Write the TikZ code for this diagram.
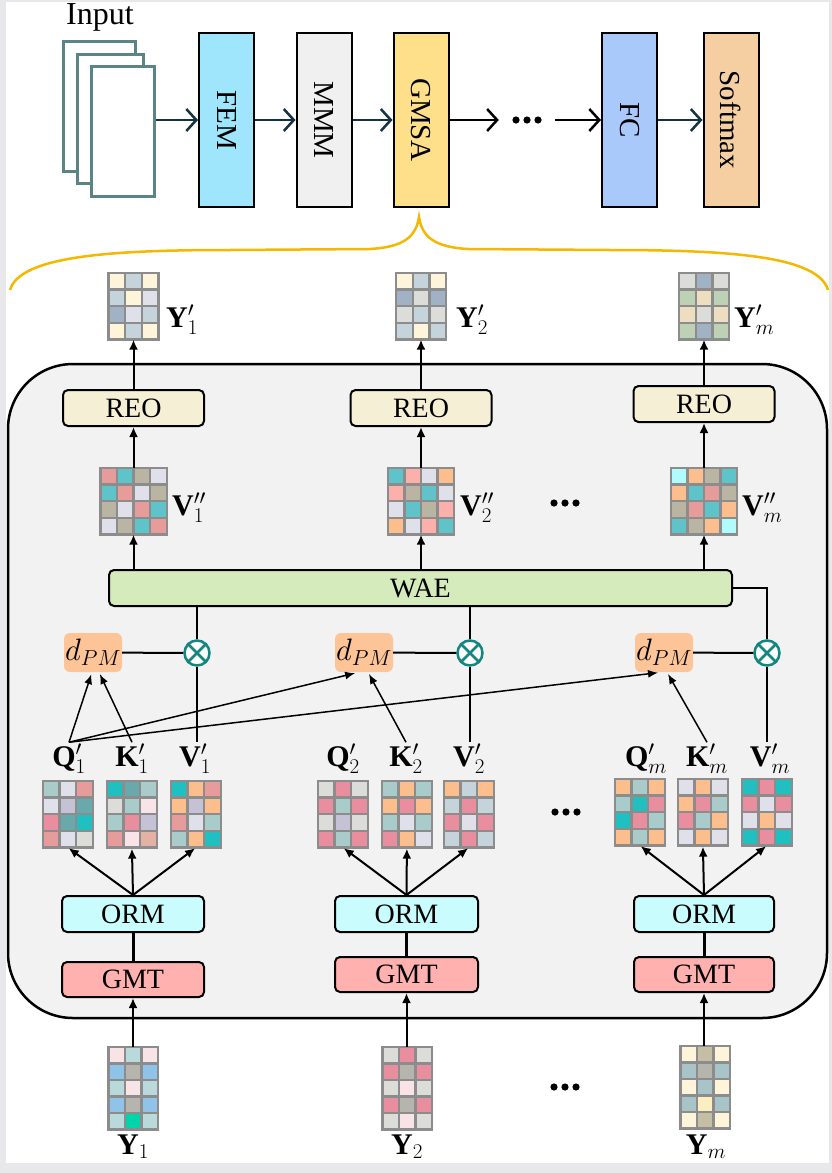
\RequirePackage{fix-cm}
\documentclass[tikz,border=0pt]{standalone}
\usepackage{fontspec}
\setmainfont{Liberation Serif}
\usepackage{graphicx}
\usetikzlibrary{arrows.meta}
\definecolor{cframe}{HTML}{E8E8EA}
\definecolor{cpage}{HTML}{5B8585}
\definecolor{cfem}{HTML}{9FE6FC}
\definecolor{cmmm}{HTML}{F0F0F0}
\definecolor{cgmsa}{HTML}{FFE08A}
\definecolor{cfc}{HTML}{A9C9FB}
\definecolor{csoft}{HTML}{F5CFA2}
\definecolor{cnavy}{HTML}{14323F}
\definecolor{cbrace}{HTML}{F5B800}
\definecolor{cbody}{HTML}{F2F2F2}
\definecolor{creo}{HTML}{F5EFD5}
\definecolor{cwae}{HTML}{D5EBBC}
\definecolor{cdpm}{HTML}{FCC497}
\definecolor{cot}{HTML}{138680}
\definecolor{corm}{HTML}{C9FDFD}
\definecolor{cgmt}{HTML}{FFB1B0}
\definecolor{cgrid}{HTML}{8C8C8C}
% cell colours
\definecolor{ccr}{HTML}{FDF4DA}
\definecolor{cbg}{HTML}{C5D3DA}
\definecolor{clv}{HTML}{E0E0EA}
\definecolor{csl}{HTML}{A0B2C4}
\definecolor{clg}{HTML}{DCDCD8}
\definecolor{csg}{HTML}{BDD1B5}
\definecolor{ctn}{HTML}{EEDEC0}
\definecolor{cro}{HTML}{E59C9A}
\definecolor{cte}{HTML}{5EC4C9}
\definecolor{ckh}{HTML}{B9B5A2}
\definecolor{cpk}{HTML}{FBB0AB}
\definecolor{cor}{HTML}{FCBE8C}
\definecolor{ccy}{HTML}{B0FCFC}
\definecolor{cgt}{HTML}{A9CBCA}
\definecolor{cli}{HTML}{C4C2D4}
\definecolor{cdt}{HTML}{6AA9AB}
\definecolor{cpr}{HTML}{E98E9F}
\definecolor{cbt}{HTML}{20BFC0}
\definecolor{cpp}{HTML}{F8E4E6}
\definecolor{csa}{HTML}{E3B2A4}
\definecolor{csb}{HTML}{8FC4E8}
\definecolor{cgy}{HTML}{B5B5AD}
\definecolor{clt}{HTML}{B9D9DB}
\definecolor{cmn}{HTML}{00D4AA}
\definecolor{ckk}{HTML}{C4BEA4}
\definecolor{cgg}{HTML}{A9C4C8}
\definecolor{cyw}{HTML}{FBEEC0}

\newcommand\cellmat[7]{%
  \foreach \mcol [count=\mi from 0] in {#7}{%
    \pgfmathtruncatemacro\mcx{mod(\mi,#4)}%
    \pgfmathtruncatemacro\mry{div(\mi,#4)}%
    \fill[\mcol] ({#2+\mcx*#6},{#3+\mry*#6}) rectangle ++(#6,#6);
  }
  \foreach \mk in {0,...,#4} \draw[gridline] ({#2+\mk*#6},#3) -- ++(0,{#5*#6});
  \foreach \mk in {0,...,#5} \draw[gridline] (#2,{#3+\mk*#6}) -- ++({#4*#6},0);
  \node[inner sep=0pt, minimum width={#4*#6}, minimum height={#5*#6}] (#1) at ({#2+#4*#6/2},{#3+#5*#6/2}) {};
}
\newcommand\threedots[2]{\foreach \mk in {-11,0,11} \fill ({#1+\mk},#2) circle (3.6);}

\tikzset{
 blk/.style={draw=black, line width=2pt, rounded corners=5pt, inner sep=0pt, font=\fontsize{28}{30}\selectfont},
 topblk/.style={draw=black, line width=2pt, inner sep=0pt, minimum width=55pt, minimum height=174pt, font=\fontsize{29}{30}\selectfont},
 page/.style={draw=cpage, line width=3pt, fill=white, inner sep=0pt},
 toparr/.style={line width=2.5pt, -{Straight Barb[length=10pt,width=22pt]}},
 arr/.style={line width=2pt, -{Latex[length=10pt,width=9pt]}},
 thinarr/.style={line width=1.5pt, -{Latex[length=10pt,width=8pt]}},
 conn/.style={line width=2pt},
 lbl/.style={font=\fontsize{30}{32}\selectfont, inner sep=1pt},
 gridline/.style={draw=cgrid, line width=2.4pt, line cap=rect},
 otn/.style={circle, draw=cot, line width=2.5pt, fill=white, minimum size=25pt, inner sep=0pt},
 dpmn/.style={fill=cdpm, rounded corners=6pt, minimum width=58pt, minimum height=39pt, inner sep=0pt, font=\fontsize{31}{32}\selectfont},
}

\begin{document}
\begin{tikzpicture}[x=1pt,y=-1pt]
\useasboundingbox (0,0) rectangle (832,1173);
\fill[cframe] (0,0) rectangle (832,1173);
\fill[white] (6,2) rectangle (829,1163);

% ---------- top pipeline ----------
\node[font=\fontsize{32}{34}\selectfont, inner sep=0pt] (inlbl) at (100,17) {Input};
\node[page, minimum width=72, minimum height=130] (in1) at (99,106) {};
\node[page, minimum width=66, minimum height=129] (in2) at (110,118.5) {};
\node[page, minimum width=63, minimum height=130] (in3) at (122.5,131) {};

\node[topblk, fill=cfem] (fem) at (226.5,120) {\rotatebox{-90}{FEM}};
\node[topblk, fill=cmmm] (mmm) at (324,120) {\rotatebox{-90}{MMM}};
\node[topblk, fill=cgmsa] (gmsa) at (421,120) {\rotatebox{-90}{GMSA}};
\node[inner sep=0pt, minimum width=56, minimum height=10] (tdots) at (527,120) {};
\threedots{527}{120}
\node[topblk, fill=cfc] (fc) at (629.5,120) {\rotatebox{-90}{FC}};
\node[topblk, fill=csoft] (soft) at (731,120) {\rotatebox{-90}{Softmax}};

\draw[toparr, cnavy] (in3.east |- fem) -- (fem);
\draw[toparr, cnavy] (fem) -- (mmm);
\draw[toparr, cnavy] (mmm) -- (gmsa);
\draw[toparr] (gmsa) -- (tdots.west);
\draw[toparr] (tdots.east) -- (fc);
\draw[toparr, cnavy] (fc) -- (soft);

% brace
\coordinate (apex) at (419,217);
\draw[cbrace, line width=2.5pt] (10,290) .. controls (20,256) and (110,250) .. (230,250) -- (370,249)
   .. controls (405,247) and (416,236) .. (apex)
   .. controls (422,236) and (433,247) .. (468,249) -- (610,250)
   .. controls (730,250) and (818,256) .. (828,290);

% ---------- body ----------
\node[draw=black, line width=2.5pt, fill=cbody, rounded corners=65pt, minimum width=819, minimum height=654, inner sep=0pt] (body) at (417.5,691) {};

% output matrices Y'
\cellmat{yp1}{108.6}{273}{3}{4}{16.6}{ccr,cbg,ccr, cbg,ccr,clv, csl,clv,cbg, ccr,cbg,ccr}
\cellmat{yp2}{396.1}{273}{3}{4}{16.6}{ccr,cbg,ccr, csl,clg,csl, clg,cbg,clg, cbg,ccr,cbg}
\cellmat{yp3}{679.1}{273}{3}{4}{16.6}{clg,csl,clg, csg,ctn,csg, ctn,clg,ctn, csg,csl,csg}
\node[lbl, anchor=base west] (yp1l) at (165,327) {$\mathbf{Y}'_1$};
\node[lbl, anchor=base west] (yp2l) at (455,327) {$\mathbf{Y}'_2$};
\node[lbl, anchor=base west] (yp3l) at (733,327) {$\mathbf{Y}'_m$};

% REO
\node[blk, fill=creo, minimum width=141, minimum height=36] (reo1) at (133.5,408) {REO};
\node[blk, fill=creo, minimum width=141, minimum height=36] (reo2) at (421,408) {REO};
\node[blk, fill=creo, minimum width=141, minimum height=36] (reo3) at (704,404) {REO};

% V''
\cellmat{vpp1}{100.3}{468}{4}{4}{16.6}{cro,cte,ckh,clv, cte,cro,clv,ckh, ckh,clv,cro,cte, clv,ckh,cte,cro}
\cellmat{vpp2}{387.8}{468}{4}{4}{16.6}{cte,cpk,clv,cor, cpk,ckh,cte,clv, clv,cte,ckh,cpk, cor,clv,cpk,cte}
\cellmat{vpp3}{670.8}{468}{4}{4}{16.6}{ccy,cor,ckh,cte, cor,cte,cro,ckh, ckh,cro,cte,cor, cte,ckh,cor,ccy}
\node[lbl, anchor=base west] (vpp1l) at (171,515) {$\mathbf{V}''_1$};
\node[lbl, anchor=base west] (vpp2l) at (459,515) {$\mathbf{V}''_2$};
\node[lbl, anchor=base west] (vpp3l) at (741,515) {$\mathbf{V}''_m$};
\threedots{565}{503}

\draw[arr] (reo1) -- (yp1);
\draw[arr] (reo2) -- (yp2);
\draw[arr] (reo3) -- (yp3);
\draw[arr] (vpp1) -- (reo1);
\draw[arr] (vpp2) -- (reo2);
\draw[arr] (vpp3) -- (reo3);

% WAE
\node[blk, fill=cwae, minimum width=623, minimum height=36] (wae) at (420.5,588) {WAE};
\draw[arr] (wae.north -| vpp1) -- (vpp1);
\draw[arr] (wae.north -| vpp2) -- (vpp2);
\draw[arr] (wae.north -| vpp3) -- (vpp3);

% dPM and otimes
\node[dpmn] (dpm1) at (93,652.5) {$d_{PM}$};
\node[dpmn] (dpm2) at (364,652.5) {$d_{PM}$};
\node[dpmn] (dpm3) at (664,652.5) {$d_{PM}$};
\node[otn] (ot1) at (197,653) {};
\node[otn] (ot2) at (470,653) {};
\node[otn] (ot3) at (767,653) {};
\foreach \o in {ot1,ot2,ot3}{
  \draw[cot, line width=2.5pt] (\o.north east) -- (\o.south west);
  \draw[cot, line width=2.5pt] (\o.north west) -- (\o.south east);
}
\draw[conn] (dpm1) -- (ot1);
\draw[conn] (dpm2) -- (ot2);
\draw[conn] (dpm3) -- (ot3);
\draw[conn] (ot1) -- (ot1 |- wae.south);
\draw[conn] (ot2) -- (ot2 |- wae.south);
\draw[conn] (ot3) |- (wae.east);

% Q K V labels
\node[lbl, anchor=base] (q1l) at (69,766) {$\mathbf{Q}'_1$};
\node[lbl, anchor=base] (k1l) at (132,766) {$\mathbf{K}'_1$};
\node[lbl, anchor=base] (v1l) at (195,766) {$\mathbf{V}'_1$};
\node[lbl, anchor=base] (q2l) at (343,766) {$\mathbf{Q}'_2$};
\node[lbl, anchor=base] (k2l) at (406,766) {$\mathbf{K}'_2$};
\node[lbl, anchor=base] (v2l) at (469,766) {$\mathbf{V}'_2$};
\node[lbl, anchor=base] (q3l) at (646,766) {$\mathbf{Q}'_m$};
\node[lbl, anchor=base] (k3l) at (707,766) {$\mathbf{K}'_m$};
\node[lbl, anchor=base] (v3l) at (770,766) {$\mathbf{V}'_m$};

\draw[conn] (ot1) -- (ot1 |- v1l.north);
\draw[conn] (ot2) -- (ot2 |- v2l.north);
\draw[conn] (ot3) -- (ot3 |- v3l.north);

\draw[thinarr, shorten >=2pt] (q1l.north) -- ([xshift=-1pt]dpm1.south);
\draw[thinarr, shorten >=2pt] (k1l.north) -- ([xshift=6pt]dpm1.south);
\draw[thinarr, shorten >=4pt] (q1l.north) -- ([xshift=-5pt]dpm2.south);
\draw[thinarr, shorten >=2pt] (k2l.north) -- ([xshift=4pt]dpm2.south);
\draw[thinarr, shorten >=4pt] (q1l.north) -- ([xshift=-2pt]dpm3.south);
\draw[thinarr, shorten >=2pt] (k3l.north) -- ([xshift=3pt]dpm3.south);

% Q K V matrices
\cellmat{q1m}{43}{781}{3}{4}{16.6}{cgt,clv,cro, clv,cli,cdt, cpr,cdt,cbt, cro,clv,clg}
\cellmat{k1m}{107}{781}{3}{4}{16.6}{cbt,cdt,cgt, clg,cgt,cpp, cgt,cpr,cli, cro,cpp,csa}
\cellmat{v1m}{171}{781}{3}{4}{16.6}{cbt,cor,cro, cor,cli,cor, cro,clv,cgt, cgt,cor,cbt}
\cellmat{q2m}{318}{781}{3}{4}{16.6}{clg,cpr,clg, cpr,cgt,cpr, clg,cli,clg, cpr,cgt,cpr}
\cellmat{k2m}{382}{781}{3}{4}{16.6}{cgt,cor,cgt, cor,cpr,cor, cgt,clv,cgt, cpr,cor,clv}
\cellmat{v2m}{444}{781}{3}{4}{16.6}{cor,cbg,cor, cbg,cpr,cbg, cpr,clv,cpr, cbg,cpr,cbg}
\cellmat{q3m}{615}{779}{3}{4}{16.6}{cor,cgt,cor, cgt,cbt,cpr, cbt,cpr,cgt, cor,cgt,cor}
\cellmat{k3m}{678}{779}{3}{4}{16.6}{clv,cor,clv, cor,cpr,cgt, cpr,cgt,cor, clv,cor,clv}
\cellmat{v3m}{742}{779}{3}{4}{16.6}{cbt,cpr,cbt, cpr,clv,cpr, clv,cor,clv, cbt,cpr,cbt}
\threedots{566}{812}

% ORM, GMT
\node[blk, fill=corm, minimum width=142, minimum height=36] (orm1) at (133,914) {ORM};
\node[blk, fill=corm, minimum width=143, minimum height=36] (orm2) at (406.5,914) {ORM};
\node[blk, fill=corm, minimum width=140, minimum height=36] (orm3) at (704,914) {ORM};
\node[blk, fill=cgmt, minimum width=142, minimum height=35] (gmt1) at (133,979.5) {GMT};
\node[blk, fill=cgmt, minimum width=143, minimum height=35] (gmt2) at (406.5,974.5) {GMT};
\node[blk, fill=cgmt, minimum width=140, minimum height=35] (gmt3) at (704,974.5) {GMT};

\foreach \i in {1,2,3}{
  \draw[line width=3pt] (gmt\i) -- (orm\i);
  \draw[arr, shorten >=1pt] (orm\i.north) -- (q\i m.south);
  \draw[arr, shorten >=1pt] (orm\i.north) -- (k\i m.south);
  \draw[arr, shorten >=1pt] (orm\i.north) -- (v\i m.south);
}

% input matrices Y
\cellmat{y1m}{108.5}{1047}{3}{5}{16.5}{cpp,clt,cpp, csb,cgy,csb, clt,cpp,clt, csb,cgy,csb, clt,cmn,clt}
\cellmat{y2m}{382.5}{1047}{3}{5}{16.5}{clg,cpr,clg, cpr,cgy,cpr, clg,cpp,clg, cpr,cgy,cpr, clg,cpp,clg}
\cellmat{y3m}{680.5}{1046}{3}{5}{16.5}{ccr,ckk,ccr, cgg,cgy,cgg, ccr,cgg,ccr, cgg,cyw,cgg, ccr,ckk,ccr}
\threedots{565}{1087}
\draw[arr] (y1m.north -| gmt1) -- (gmt1);
\draw[arr] (y2m.north -| gmt2) -- (gmt2);
\draw[arr] (y3m.north -| gmt3) -- (gmt3);

\node[lbl, anchor=base] (y1l) at (133,1154) {$\mathbf{Y}_1$};
\node[lbl, anchor=base] (y2l) at (407,1154) {$\mathbf{Y}_2$};
\node[lbl, anchor=base] (y3l) at (706,1154) {$\mathbf{Y}_m$};
\end{tikzpicture}
\end{document}
